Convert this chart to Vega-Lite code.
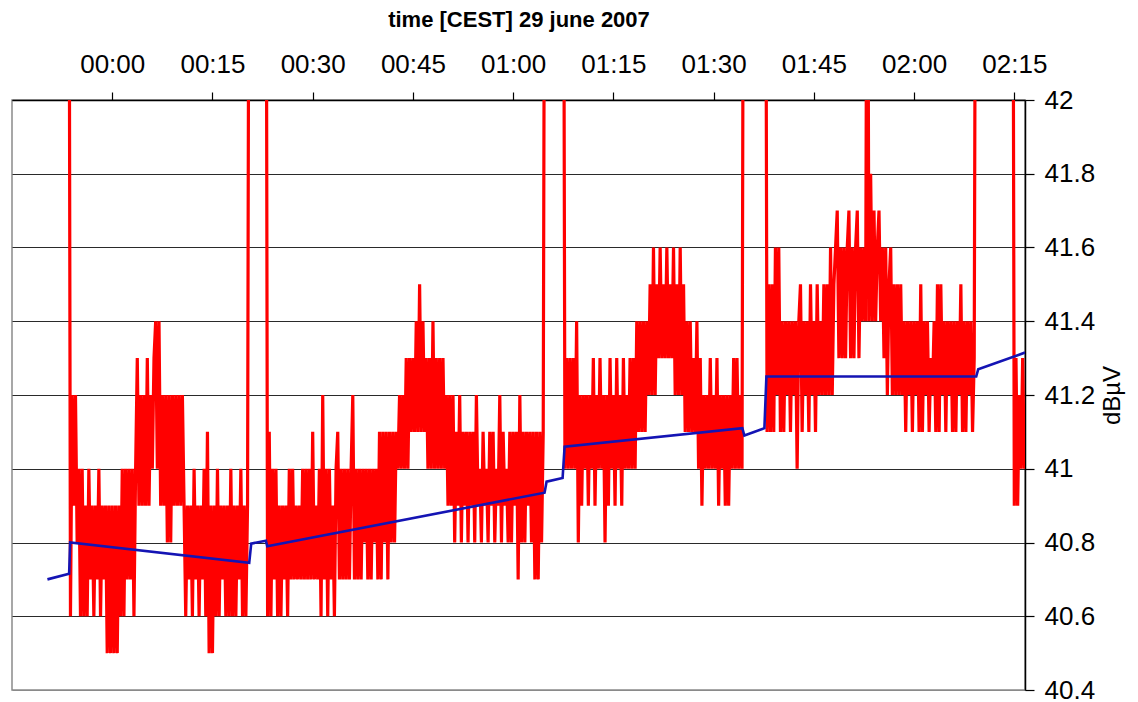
{
"$schema":"https://vega.github.io/schema/vega-lite/v6.json",
"width":1013,"height":590,
"autosize":"none",
"padding":{"left":12,"top":100,"right":113,"bottom":12},
"background":"white",
"config":{"font":"Liberation Sans","view":{"stroke":"#8a8a8a","strokeWidth":1.5}},
"datasets":{
"red":[
{"m":-6.5,"v":43},{"m":-6.25,"v":40.6},{"m":-6,"v":41.2},{"m":-5.75,"v":40.9},{"m":-5.5,"v":41.2},{"m":-5.25,"v":40.8},
{"m":-5,"v":41},{"m":-4.75,"v":40.6},{"m":-4.5,"v":41},{"m":-4.25,"v":40.6},{"m":-4,"v":40.9},{"m":-3.75,"v":40.6},{"m":-3.5,"v":41},{"m":-3.25,"v":40.7},{"m":-3,"v":40.9},{"m":-2.75,"v":40.6},{"m":-2.5,"v":40.9},{"m":-2.25,"v":40.7},{"m":-2,"v":41},{"m":-1.75,"v":40.6},{"m":-1.5,"v":40.9},{"m":-1.25,"v":40.7},
{"m":-1,"v":40.9},{"m":-0.75,"v":40.5},{"m":-0.5,"v":40.9},{"m":-0.25,"v":40.5},{"m":0,"v":40.9},{"m":0.25,"v":40.5},{"m":0.5,"v":40.9},{"m":0.75,"v":40.5},{"m":1,"v":40.9},{"m":1.25,"v":40.6},
{"m":1.5,"v":41},{"m":1.75,"v":40.6},{"m":2,"v":41},{"m":2.25,"v":40.7},{"m":2.5,"v":41},{"m":2.75,"v":40.7},{"m":3,"v":41},{"m":3.25,"v":40.6},{"m":3.5,"v":41},
{"m":3.75,"v":41.3},{"m":4,"v":40.9},{"m":4.25,"v":41.2},{"m":4.5,"v":40.9},{"m":4.75,"v":41.2},{"m":5,"v":40.9},{"m":5.25,"v":41.3},{"m":5.5,"v":40.9},
{"m":5.75,"v":41.2},{"m":6,"v":41},{"m":6.25,"v":41.3},{"m":6.5,"v":41.4},{"m":6.75,"v":41},{"m":7,"v":41.4},
{"m":7.25,"v":40.9},{"m":7.5,"v":41.2},{"m":7.75,"v":40.9},{"m":8,"v":41.2},{"m":8.25,"v":40.8},{"m":8.5,"v":41.2},{"m":8.75,"v":40.8},{"m":9,"v":41.2},{"m":9.25,"v":40.9},{"m":9.5,"v":41.2},{"m":9.75,"v":40.9},{"m":10,"v":41.2},{"m":10.25,"v":40.9},{"m":10.5,"v":41.2},
{"m":10.75,"v":40.9},{"m":11,"v":40.6},{"m":11.25,"v":40.9},{"m":11.5,"v":40.7},{"m":11.75,"v":40.9},{"m":12,"v":40.6},{"m":12.25,"v":41},{"m":12.5,"v":40.7},{"m":12.75,"v":40.9},{"m":13,"v":40.6},{"m":13.25,"v":40.9},{"m":13.5,"v":40.7},{"m":13.75,"v":41},{"m":14,"v":40.6},{"m":14.25,"v":41.1},{"m":14.5,"v":40.5},{"m":14.75,"v":40.9},{"m":15,"v":40.5},{"m":15.25,"v":40.9},{"m":15.5,"v":40.6},{"m":15.75,"v":41},{"m":16,"v":40.6},{"m":16.25,"v":40.9},{"m":16.5,"v":40.7},{"m":16.75,"v":40.9},{"m":17,"v":40.6},{"m":17.25,"v":40.9},{"m":17.5,"v":40.6},{"m":17.75,"v":41},{"m":18,"v":40.6},{"m":18.25,"v":40.9},{"m":18.5,"v":40.6},{"m":18.75,"v":40.9},{"m":19,"v":40.7},{"m":19.25,"v":41},{"m":19.5,"v":40.6},{"m":19.75,"v":40.9},{"m":20,"v":40.6},{"m":20.25,"v":40.9},
{"m":20.5,"v":43},{"m":23,"v":43},{"m":23.25,"v":40.6},
{"m":23.5,"v":41.1},{"m":23.75,"v":40.6},{"m":24,"v":41},
{"m":24.25,"v":40.7},{"m":24.5,"v":41},{"m":24.75,"v":40.6},{"m":25,"v":40.9},{"m":25.25,"v":40.6},{"m":25.5,"v":40.9},{"m":25.75,"v":40.7},{"m":26,"v":40.9},{"m":26.25,"v":40.6},{"m":26.5,"v":41},{"m":26.75,"v":40.7},{"m":27,"v":41},{"m":27.25,"v":40.7},{"m":27.5,"v":40.9},{"m":27.75,"v":40.7},{"m":28,"v":40.9},{"m":28.25,"v":40.7},{"m":28.5,"v":41},{"m":28.75,"v":40.7},{"m":29,"v":41},{"m":29.25,"v":40.7},{"m":29.5,"v":41},{"m":29.75,"v":40.7},{"m":30,"v":41.1},{"m":30.25,"v":40.7},{"m":30.5,"v":40.9},{"m":30.75,"v":40.7},{"m":31,"v":41},{"m":31.25,"v":40.6},{"m":31.5,"v":41.2},{"m":31.75,"v":40.7},{"m":32,"v":41},{"m":32.25,"v":40.6},{"m":32.5,"v":41},{"m":32.75,"v":40.7},{"m":33,"v":40.9},{"m":33.25,"v":40.6},{"m":33.5,"v":41},
{"m":33.75,"v":41.1},{"m":34,"v":40.7},{"m":34.25,"v":41},{"m":34.5,"v":40.7},{"m":34.75,"v":41},{"m":35,"v":40.7},{"m":35.25,"v":41},{"m":35.5,"v":40.7},{"m":35.75,"v":41},{"m":36,"v":41.2},{"m":36.25,"v":40.7},{"m":36.5,"v":41},{"m":36.75,"v":40.7},{"m":37,"v":41},{"m":37.25,"v":40.7},{"m":37.5,"v":41},{"m":37.75,"v":40.8},{"m":38,"v":41},{"m":38.25,"v":40.7},{"m":38.5,"v":41},
{"m":38.75,"v":40.7},{"m":39,"v":41},{"m":39.25,"v":40.8},{"m":39.5,"v":41},{"m":39.75,"v":40.7},{"m":40,"v":41.1},{"m":40.25,"v":40.7},{"m":40.5,"v":41.1},{"m":40.75,"v":40.8},{"m":41,"v":41.1},{"m":41.25,"v":40.7},{"m":41.5,"v":41.1},{"m":41.75,"v":40.8},{"m":42,"v":41.1},{"m":42.25,"v":40.8},{"m":42.5,"v":41.1},
{"m":42.75,"v":41},{"m":43,"v":41.2},{"m":43.25,"v":41},{"m":43.5,"v":41.2},{"m":43.75,"v":41},{"m":44,"v":41.3},{"m":44.25,"v":41},{"m":44.5,"v":41.3},
{"m":44.75,"v":41.1},{"m":45,"v":41.3},{"m":45.25,"v":41.1},{"m":45.5,"v":41.4},{"m":45.75,"v":41.1},{"m":46,"v":41.5},{"m":46.25,"v":41.1},{"m":46.5,"v":41.4},{"m":46.75,"v":41.1},{"m":47,"v":41.3},
{"m":47.25,"v":41},{"m":47.5,"v":41.3},{"m":47.75,"v":41},{"m":48,"v":41.4},{"m":48.25,"v":41},{"m":48.5,"v":41.3},{"m":48.75,"v":41},{"m":49,"v":41.3},{"m":49.25,"v":41},{"m":49.5,"v":41.3},{"m":49.75,"v":41},{"m":50,"v":41.2},
{"m":50.25,"v":40.9},{"m":50.5,"v":41.2},{"m":50.75,"v":40.9},{"m":51,"v":41.2},{"m":51.25,"v":40.8},
{"m":51.5,"v":41.1},{"m":51.75,"v":40.9},{"m":52,"v":41.2},{"m":52.25,"v":40.8},{"m":52.5,"v":41.1},{"m":52.75,"v":40.9},{"m":53,"v":41.1},{"m":53.25,"v":40.8},{"m":53.5,"v":41.1},{"m":53.75,"v":40.9},{"m":54,"v":41.1},{"m":54.25,"v":40.8},{"m":54.5,"v":41.2},{"m":54.75,"v":40.9},{"m":55,"v":41},{"m":55.25,"v":40.8},{"m":55.5,"v":41.1},{"m":55.75,"v":40.9},{"m":56,"v":41},{"m":56.25,"v":40.8},{"m":56.5,"v":41.1},{"m":56.75,"v":40.9},{"m":57,"v":41.1},{"m":57.25,"v":40.8},{"m":57.5,"v":41},{"m":57.75,"v":40.9},{"m":58,"v":41.2},{"m":58.25,"v":40.8},{"m":58.5,"v":41.1},{"m":58.75,"v":40.9},{"m":59,"v":41},{"m":59.25,"v":40.8},{"m":59.5,"v":41.1},{"m":59.75,"v":40.8},{"m":60,"v":41.1},{"m":60.25,"v":40.9},{"m":60.5,"v":41.1},{"m":60.75,"v":40.7},{"m":61,"v":41.2},{"m":61.25,"v":40.8},{"m":61.5,"v":41.1},{"m":61.75,"v":40.8},{"m":62,"v":41.1},{"m":62.25,"v":40.9},{"m":62.5,"v":41.1},{"m":62.75,"v":40.8},{"m":63,"v":41.1},{"m":63.25,"v":40.7},{"m":63.5,"v":41.1},{"m":63.75,"v":40.7},{"m":64,"v":41.1},{"m":64.25,"v":40.8},{"m":64.5,"v":41.1},
{"m":64.75,"v":43},{"m":67.5,"v":43},{"m":67.75,"v":41},
{"m":68,"v":41.3},{"m":68.25,"v":41},{"m":68.5,"v":41.3},{"m":68.75,"v":41},{"m":69,"v":41.3},{"m":69.25,"v":41},{"m":69.5,"v":41.4},{"m":69.75,"v":40.8},
{"m":70,"v":41.2},{"m":70.25,"v":40.9},{"m":70.5,"v":41.2},{"m":70.75,"v":41},{"m":71,"v":41.2},{"m":71.25,"v":40.9},{"m":71.5,"v":41.2},{"m":71.75,"v":41},{"m":72,"v":41.3},{"m":72.25,"v":40.9},{"m":72.5,"v":41.2},{"m":72.75,"v":41},{"m":73,"v":41.3},{"m":73.25,"v":41},{"m":73.5,"v":41.2},{"m":73.75,"v":40.8},{"m":74,"v":41.2},{"m":74.25,"v":40.9},{"m":74.5,"v":41.3},{"m":74.75,"v":41},{"m":75,"v":41.2},{"m":75.25,"v":40.9},{"m":75.5,"v":41.3},{"m":75.75,"v":41},{"m":76,"v":41.2},{"m":76.25,"v":40.9},{"m":76.5,"v":41.3},{"m":76.75,"v":41},{"m":77,"v":41.2},{"m":77.25,"v":41},{"m":77.5,"v":41.3},{"m":77.75,"v":41},{"m":78,"v":41.3},{"m":78.25,"v":41},
{"m":78.5,"v":41.4},{"m":78.75,"v":41.1},{"m":79,"v":41.4},{"m":79.25,"v":41.1},{"m":79.5,"v":41.4},{"m":79.75,"v":41.1},{"m":80,"v":41.4},
{"m":80.25,"v":41.2},{"m":80.5,"v":41.5},{"m":80.75,"v":41.2},{"m":81,"v":41.6},{"m":81.25,"v":41.2},
{"m":81.5,"v":41.5},{"m":81.75,"v":41.3},{"m":82,"v":41.6},{"m":82.25,"v":41.3},{"m":82.5,"v":41.5},{"m":82.75,"v":41.3},{"m":83,"v":41.6},{"m":83.25,"v":41.3},{"m":83.5,"v":41.5},{"m":83.75,"v":41.3},
{"m":84,"v":41.6},{"m":84.25,"v":41.2},{"m":84.5,"v":41.5},{"m":84.75,"v":41.2},{"m":85,"v":41.6},{"m":85.25,"v":41.2},{"m":85.5,"v":41.5},{"m":85.75,"v":41.1},
{"m":86,"v":41.4},{"m":86.25,"v":41.1},{"m":86.5,"v":41.4},{"m":86.75,"v":41.1},{"m":87,"v":41.3},{"m":87.25,"v":41.1},{"m":87.5,"v":41.4},{"m":87.75,"v":41},
{"m":88,"v":41.3},{"m":88.25,"v":40.9},{"m":88.5,"v":41.2},{"m":88.75,"v":41},{"m":89,"v":41.2},{"m":89.25,"v":41},{"m":89.5,"v":41.3},{"m":89.75,"v":41},{"m":90,"v":41.2},{"m":90.25,"v":41},{"m":90.5,"v":41.3},{"m":90.75,"v":40.9},{"m":91,"v":41.2},{"m":91.25,"v":41},{"m":91.5,"v":41.2},{"m":91.75,"v":40.9},{"m":92,"v":41.2},{"m":92.25,"v":40.9},{"m":92.5,"v":41.2},{"m":92.75,"v":41},{"m":93,"v":41.3},{"m":93.25,"v":41},{"m":93.5,"v":41.3},{"m":93.75,"v":41},{"m":94,"v":41.2},{"m":94.25,"v":41},
{"m":94.5,"v":43},{"m":97.75,"v":43},{"m":98,"v":41.1},
{"m":98.25,"v":41.5},{"m":98.5,"v":41.1},{"m":98.75,"v":41.5},{"m":99,"v":41.1},{"m":99.25,"v":41.6},{"m":99.5,"v":41.2},{"m":99.75,"v":41.6},{"m":100,"v":41.1},
{"m":100.25,"v":41.4},{"m":100.5,"v":41.1},{"m":100.75,"v":41.4},{"m":101,"v":41.2},{"m":101.25,"v":41.4},{"m":101.5,"v":41.1},{"m":101.75,"v":41.4},{"m":102,"v":41.2},{"m":102.25,"v":41.4},{"m":102.5,"v":41},{"m":102.75,"v":41.4},{"m":103,"v":41.5},{"m":103.25,"v":41.1},{"m":103.5,"v":41.4},{"m":103.75,"v":41.2},{"m":104,"v":41.4},{"m":104.25,"v":41.1},{"m":104.5,"v":41.5},{"m":104.75,"v":41.2},{"m":105,"v":41.4},{"m":105.25,"v":41.1},{"m":105.5,"v":41.5},{"m":105.75,"v":41.2},{"m":106,"v":41.4},{"m":106.25,"v":41.2},
{"m":106.5,"v":41.5},{"m":106.75,"v":41.2},{"m":107,"v":41.5},{"m":107.25,"v":41.2},{"m":107.5,"v":41.6},{"m":107.75,"v":41.2},{"m":108,"v":41.5},{"m":108.25,"v":41.6},{"m":108.5,"v":41.7},{"m":108.75,"v":41.3},
{"m":109,"v":41.6},{"m":109.25,"v":41.3},{"m":109.5,"v":41.6},{"m":109.75,"v":41.3},{"m":110,"v":41.6},{"m":110.25,"v":41.7},{"m":110.5,"v":41.3},{"m":110.75,"v":41.6},{"m":111,"v":41.3},
{"m":111.25,"v":41.6},{"m":111.5,"v":41.7},{"m":111.75,"v":41.3},{"m":112,"v":41.6},{"m":112.25,"v":41.4},{"m":112.5,"v":41.6},{"m":112.75,"v":41.4},{"m":113,"v":43},{"m":113.25,"v":41.4},{"m":113.5,"v":41.8},{"m":113.75,"v":41.4},{"m":114,"v":41.7},{"m":114.25,"v":41.4},{"m":114.5,"v":41.6},{"m":114.75,"v":41.7},{"m":115,"v":41.4},{"m":115.25,"v":41.6},{"m":115.5,"v":41.3},{"m":115.75,"v":41.6},
{"m":116,"v":41.2},{"m":116.25,"v":41.5},{"m":116.5,"v":41.6},{"m":116.75,"v":41.2},{"m":117,"v":41.5},{"m":117.25,"v":41.2},{"m":117.5,"v":41.5},{"m":117.75,"v":41.2},{"m":118,"v":41.5},{"m":118.25,"v":41.2},
{"m":118.5,"v":41.4},{"m":118.75,"v":41.1},{"m":119,"v":41.4},{"m":119.25,"v":41.2},{"m":119.5,"v":41.4},{"m":119.75,"v":41.1},{"m":120,"v":41.4},{"m":120.25,"v":41.2},{"m":120.5,"v":41.4},{"m":120.75,"v":41.1},{"m":121,"v":41.5},{"m":121.25,"v":41.1},{"m":121.5,"v":41.4},{"m":121.75,"v":41.2},{"m":122,"v":41.4},{"m":122.25,"v":41.1},{"m":122.5,"v":41.3},{"m":122.75,"v":41.2},{"m":123,"v":41.4},{"m":123.25,"v":41.1},{"m":123.5,"v":41.5},{"m":123.75,"v":41.1},{"m":124,"v":41.5},{"m":124.25,"v":41.2},{"m":124.5,"v":41.4},{"m":124.75,"v":41.1},{"m":125,"v":41.4},{"m":125.25,"v":41.2},{"m":125.5,"v":41.4},{"m":125.75,"v":41.1},{"m":126,"v":41.4},{"m":126.25,"v":41.1},{"m":126.5,"v":41.4},{"m":126.75,"v":41.2},{"m":127,"v":41.5},{"m":127.25,"v":41.1},{"m":127.5,"v":41.4},{"m":127.75,"v":41.1},{"m":128,"v":41.4},{"m":128.25,"v":41.2},{"m":128.5,"v":41.4},{"m":128.75,"v":41.1},{"m":129,"v":41.3},
{"m":129.25,"v":43},{"m":134.75,"v":43},{"m":135,"v":40.9},
{"m":135.25,"v":41.3},{"m":135.5,"v":40.9},{"m":135.75,"v":41.2},{"m":136,"v":41},{"m":136.25,"v":41.3},{"m":136.5,"v":41}
],
"blue":[
{"m":-9.7,"v":40.7},{"m":-6.45,"v":40.715},{"m":-6.3,"v":40.8},{"m":20.5,"v":40.745},{"m":20.8,"v":40.797},{"m":23,"v":40.805},{"m":23.2,"v":40.79},{"m":64.7,"v":40.935},{"m":65,"v":40.965},{"m":67.4,"v":40.975},{"m":67.7,"v":41.06},{"m":94.3,"v":41.11},{"m":94.6,"v":41.09},{"m":97.6,"v":41.11},{"m":97.9,"v":41.25},{"m":129.3,"v":41.25},{"m":129.6,"v":41.27},{"m":136.6,"v":41.315}
]
},
"encoding":{
"x":{"field":"m","type":"quantitative","scale":{"domain":[-15,136.6],"nice":false,"zero":false},
 "axis":{"orient":"top","values":[0,15,30,45,60,75,90,105,120,135],"labelExpr":"timeFormat(datetime(2007,5,29,0,datum.value),'%H:%M')","title":"time [CEST] 29 june 2007","titleFontSize":22,"titleFontWeight":"bold","titleColor":"#000","titlePadding":20,"labelFontSize":26,"labelColor":"#000","labelPadding":15,"tickSize":8,"tickColor":"#000","tickWidth":1.2,"domainColor":"#000","domainWidth":1.5,"grid":false,"labelFlush":false,"labelOverlap":false}},
"y":{"field":"v","type":"quantitative","scale":{"domain":[40.4,42],"nice":false,"zero":false},
 "axis":{"orient":"right","values":[40.4,40.6,40.8,41,41.2,41.4,41.6,41.8,42],"format":"~g","title":"dBµV","titleFontSize":24,"titleFontWeight":"normal","titleColor":"#000","titleAngle":270,"titlePadding":30,"labelFontSize":26,"labelColor":"#000","labelPadding":10,"labelBaseline":"middle","tickSize":9,"tickColor":"#000","tickWidth":1.2,"domainColor":"#000","domainWidth":1.5,"grid":true,"gridColor":{"condition":{"test":"datum.value<=40.41","value":"#8a8a8a"},"value":"#2a2a2a"},"gridWidth":1.2,"labelFlush":false,"labelOverlap":false}}
},
"layer":[
{"data":{"name":"red"},"mark":{"type":"line","color":"#ff0000","strokeWidth":3.2,"clip":true}},
{"data":{"name":"blue"},"mark":{"type":"line","color":"#1414b4","strokeWidth":2.6,"clip":true}}
]
}
